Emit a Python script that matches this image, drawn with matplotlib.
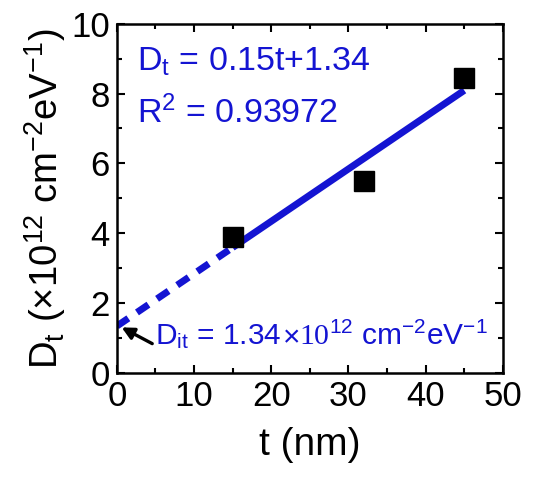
import numpy as np
import matplotlib
matplotlib.use("Agg")
import matplotlib.pyplot as plt
from matplotlib.ticker import MultipleLocator

plt.rcParams['font.family'] = ['Liberation Sans', 'DejaVu Sans']
plt.rcParams['mathtext.fontset'] = 'custom'
plt.rcParams['mathtext.rm'] = 'Liberation Sans'
plt.rcParams['mathtext.it'] = 'Liberation Sans:italic'
plt.rcParams['mathtext.bf'] = 'Liberation Sans:bold'

# Measured trap density vs. thickness
thickness = [15, 32, 45]
density = [3.9, 5.5, 8.45]

# Linear fit parameters
slope = 0.15
intercept = 1.34
r_squared = 0.93972

blue = '#1414d2'

fig = plt.figure(figsize=(5.46, 4.83), dpi=100)
ax = fig.add_axes([0.214, 0.228, 0.707, 0.723])

t_dash = np.array([0, 15])
t_solid = np.array([15, 45])
ax.plot(t_dash, slope * t_dash + intercept, color=blue, lw=5,
        linestyle=(0, (2.0, 1.5)), solid_capstyle='butt', zorder=2)
ax.plot(t_solid, slope * t_solid + intercept, color=blue, lw=5,
        solid_capstyle='butt', zorder=2)
ax.plot(thickness, density, 's', color='black', ms=14, zorder=3)

ax.set_xlim(0, 50)
ax.set_ylim(0, 10)
ax.xaxis.set_major_locator(MultipleLocator(10))
ax.xaxis.set_minor_locator(MultipleLocator(5))
ax.yaxis.set_major_locator(MultipleLocator(2))
ax.yaxis.set_minor_locator(MultipleLocator(1))
ax.tick_params(which='both', direction='in', top=True, right=True,
               width=1.5, labelsize=25, pad=5)
ax.tick_params(which='major', length=6)
ax.tick_params(which='minor', length=3.5)
for sp in ax.spines.values():
    sp.set_linewidth(1.8)

ax.set_xlabel('t (nm)', fontsize=28, labelpad=10)
ax.set_ylabel(r'D$_\mathrm{t}$ ($\times$10$^{12}$ cm$^{-2}$eV$^{-1}$)',
              fontsize=27.5, labelpad=2)

ax.text(2.6, 8.9, r'D$_\mathrm{t}$ = %.2ft+%.2f' % (slope, intercept),
        color=blue, fontsize=24.5, va='center')
ax.text(2.6, 7.45, r'R$^2$ = %.5f' % r_squared,
        color=blue, fontsize=24.5, va='center')

ax.annotate('', xy=(0.3, intercept), xytext=(4.9, 0.8),
            arrowprops=dict(arrowstyle='-|>', color='black', lw=2.4,
                            mutation_scale=18))

# Intercept label built from pieces so the power of ten uses a serif face
renderer = fig.canvas.get_renderer()
pieces = [
    (r'D$_\mathrm{it}$ = %.2f' % intercept, None),
    (r'$\times$', None),
    (r'10$^{12}$', 'Liberation Serif'),
    (r' cm$^{-2}$eV$^{-1}$', None),
]
x0, y0 = 5.0, 1.05
for txt, fam in pieces:
    kw = dict(color=blue, fontsize=21.5, va='center')
    if fam:
        kw['family'] = fam
    t = ax.text(x0, y0, txt, **kw)
    ext = t.get_window_extent(renderer=renderer)
    x0 = ax.transData.inverted().transform((ext.x1, 0))[0]

fig.savefig('out.png', dpi=100)
